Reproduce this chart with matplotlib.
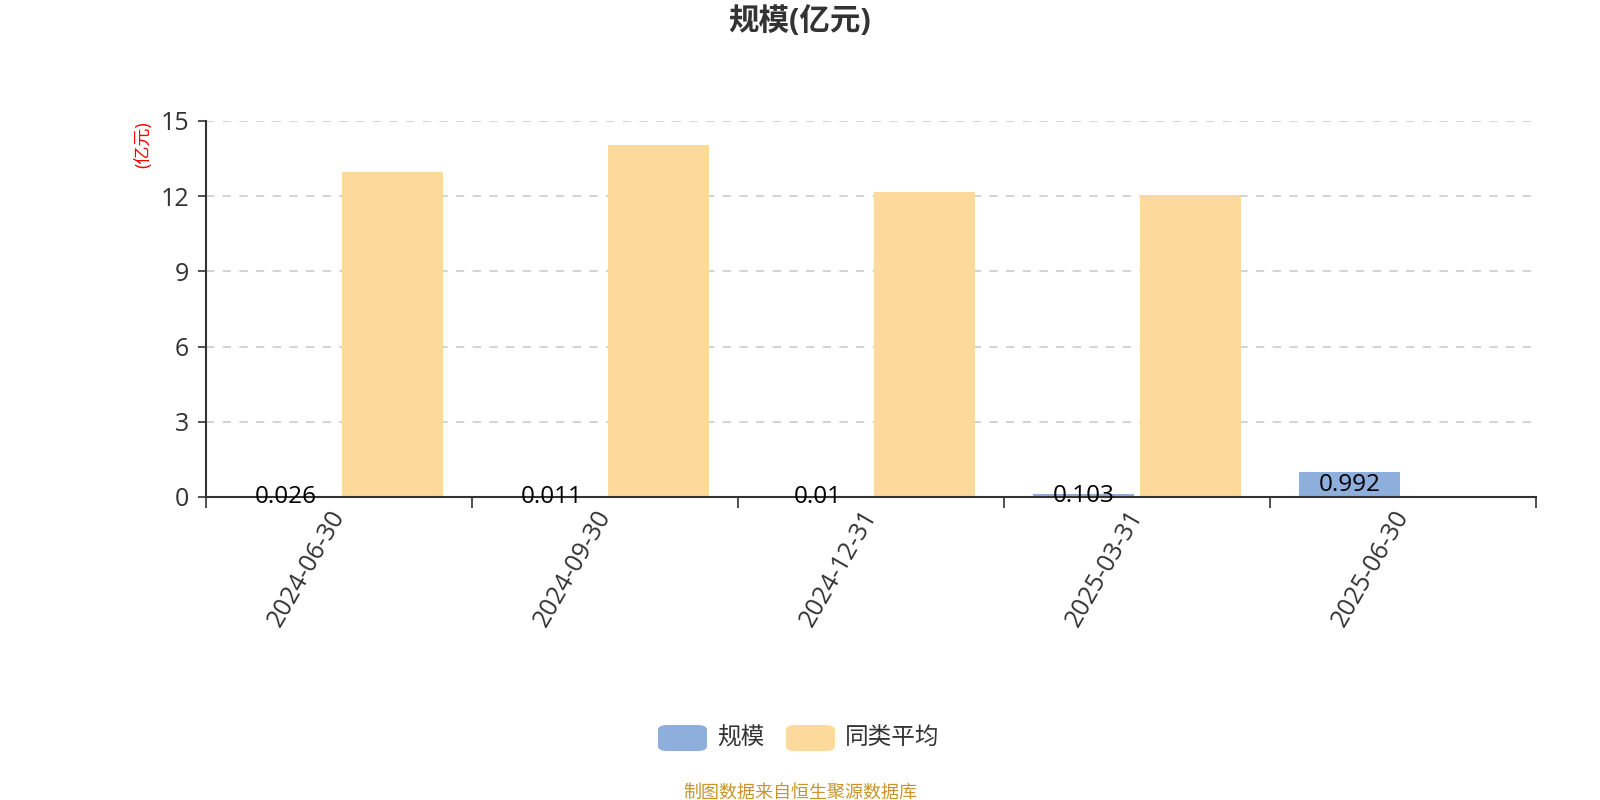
import matplotlib as mpl
mpl.use("Agg")
import matplotlib.pyplot as plt
from matplotlib.patches import FancyBboxPatch
import numpy as np

plt.rcParams["font.family"] = ["Open Sans", "Noto Sans CJK SC", "DejaVu Sans"]

dates = ["2024-06-30", "2024-09-30", "2024-12-31", "2025-03-31", "2025-06-30"]
scale = [0.026, 0.011, 0.01, 0.103, 0.992]
peerAvg = [12.95, 14.05, 12.15, 12.05, 0]
yTicks = [0, 3, 6, 9, 12, 15]

blue = "#8eaedc"
orange = "#fdd99b"
textColor = "#333333"

fig = plt.figure(figsize=(16, 8), dpi=100)
ax = fig.add_axes([206 / 1600, 1 - 497 / 800, 1330 / 1600, 376 / 800])

x = np.arange(len(dates))
barWidth = 0.38
ax.bar(x - 0.2, scale, width=barWidth, color=blue, zorder=3)
ax.bar(x + 0.2, peerAvg, width=barWidth, color=orange, zorder=3)

for xi, v in zip(x, scale):
  ax.text(xi - 0.2, v / 2, "{:g}".format(v), ha="center", va="center",
      fontsize=17.5, color="black", zorder=5)

ax.set_xlim(-0.5, len(dates) - 0.5)
ax.set_ylim(0, 15)
ax.set_yticks(yTicks)
ax.set_yticklabels([str(t) for t in yTicks], fontsize=18, color=textColor)
ax.yaxis.grid(True, linestyle=(0, (5, 5)), color="#cccccc", linewidth=1.2, zorder=0)
ax.tick_params(axis="y", length=6, width=1.2, color=textColor, pad=6)

ax.set_xticks(np.arange(len(dates) + 1) - 0.5)
ax.set_xticklabels([])
ax.tick_params(axis="x", length=8, width=1.2, color=textColor)
for xi, d in zip(x, dates):
  ax.text(xi, -0.6, d, rotation=60, rotation_mode="anchor", ha="right", va="center",
      fontsize=18, color=textColor)

for s in ["top", "right"]:
  ax.spines[s].set_visible(False)
for s in ["left", "bottom"]:
  ax.spines[s].set_color(textColor)
  ax.spines[s].set_linewidth(1.5)
  ax.spines[s].set_zorder(4)

fig.text(0.5, 1 - 22 / 800, "规模(亿元)", ha="center", va="center", fontsize=22,
    fontweight="bold", color=textColor)
fig.text(143 / 1600, 1 - 145 / 800, "(亿元)", ha="center", va="center", rotation=90,
    fontsize=13, color="red")

# legend
legendItems = [("规模", blue), ("同类平均", orange)]
legendX = [658, 786]
for (label, color), lx in zip(legendItems, legendX):
  box = FancyBboxPatch((lx / 1600, 1 - 751 / 800), 49 / 1600, 26 / 800,
      boxstyle="round,pad=0,rounding_size=0.006", transform=fig.transFigure,
      facecolor=color, edgecolor="none")
  fig.patches.append(box)
  fig.text((lx + 59) / 1600, 1 - 738 / 800, label, ha="left", va="center",
      fontsize=17, color=textColor)

fig.text(0.5, 1 - 793 / 800, "制图数据来自恒生聚源数据库", ha="center", va="center",
    fontsize=13, color="#c9952a")

fig.savefig("out.png", dpi=100)
